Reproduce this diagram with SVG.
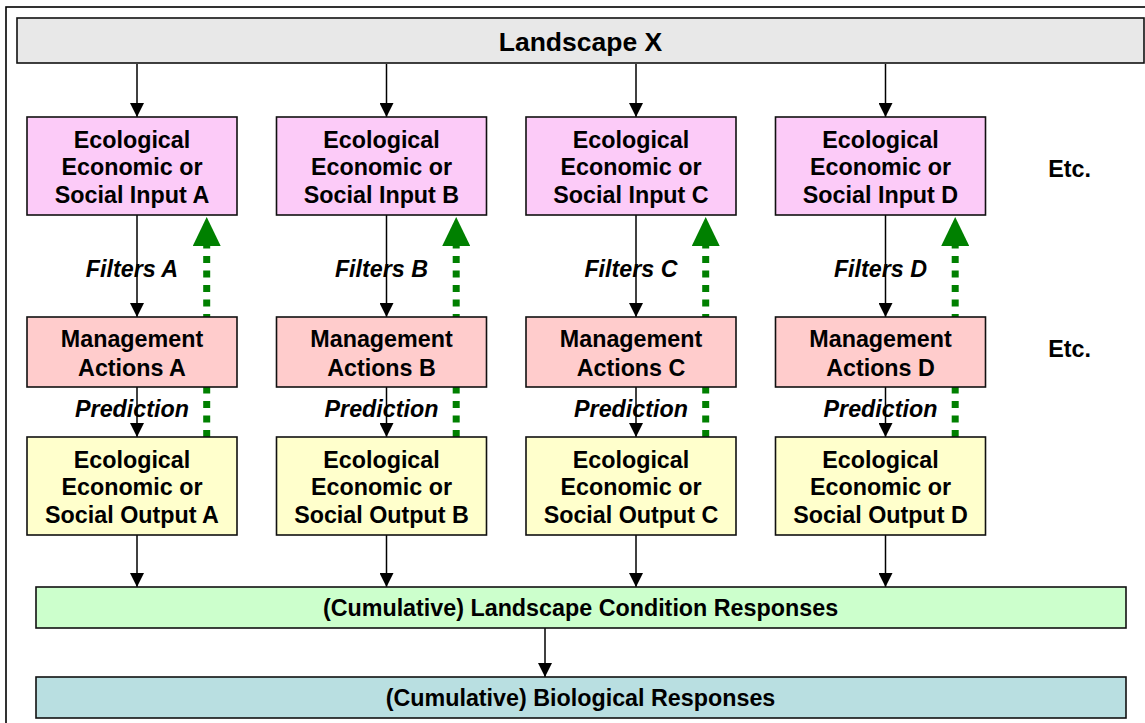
<svg xmlns="http://www.w3.org/2000/svg" width="1145" height="723" viewBox="0 0 1145 723">
  <style>
    .box { stroke: #111; stroke-width: 1.6; }
    .t { font-family: "Liberation Sans", Arial, sans-serif; font-weight: bold; font-size: 23.3px; fill: #000; text-anchor: middle; }
    .title { font-size: 26.5px; }
    .lbl { font-style: italic; }
    .arr { stroke: #000; stroke-width: 1.5; fill: none; marker-end: url(#ah); }
    .fb { stroke: #008000; stroke-width: 7; stroke-dasharray: 7 7.5; fill: none; marker-end: url(#gh); }
    .in { fill: #fccbf8; }
    .mg { fill: #ffcccc; }
    .out { fill: #ffffcc; }
  </style>
  <defs>
    <marker id="ah" markerUnits="userSpaceOnUse" markerWidth="14" markerHeight="14" refX="14" refY="7" orient="auto">
      <path d="M0,0 L14,7 L0,14 z" fill="#000"/>
    </marker>
    <marker id="gh" markerUnits="userSpaceOnUse" markerWidth="30" markerHeight="28" refX="0" refY="14" orient="auto">
      <path d="M0,0 L29,14 L0,28 z" fill="#008000"/>
    </marker>
  </defs>

  <!-- outer frame -->
  <rect x="6" y="7" width="1160" height="740" fill="#fff" stroke="#000" stroke-width="1.6"/>

  <!-- connectors -->
  <g id="connectors">
    <line class="arr" x1="137" y1="64" x2="137" y2="117"/>
    <line class="arr" x1="386.5" y1="64" x2="386.5" y2="117"/>
    <line class="arr" x1="636" y1="64" x2="636" y2="117"/>
    <line class="arr" x1="885.5" y1="64" x2="885.5" y2="117"/>

    <line class="arr" x1="137" y1="215" x2="137" y2="317"/>
    <line class="arr" x1="386.5" y1="215" x2="386.5" y2="317"/>
    <line class="arr" x1="636" y1="215" x2="636" y2="317"/>
    <line class="arr" x1="885.5" y1="215" x2="885.5" y2="317"/>

    <line class="arr" x1="137" y1="387" x2="137" y2="437"/>
    <line class="arr" x1="386.5" y1="387" x2="386.5" y2="437"/>
    <line class="arr" x1="636" y1="387" x2="636" y2="437"/>
    <line class="arr" x1="885.5" y1="387" x2="885.5" y2="437"/>

    <line class="arr" x1="137" y1="535" x2="137" y2="587"/>
    <line class="arr" x1="386.5" y1="535" x2="386.5" y2="587"/>
    <line class="arr" x1="636" y1="535" x2="636" y2="587"/>
    <line class="arr" x1="885.5" y1="535" x2="885.5" y2="587"/>

    <line class="arr" x1="545" y1="628" x2="545" y2="677"/>

    <!-- feedback from outputs back to inputs -->
    <line class="fb" x1="206.7" y1="437" x2="206.7" y2="246"/>
    <line class="fb" x1="456.2" y1="437" x2="456.2" y2="246"/>
    <line class="fb" x1="705.7" y1="437" x2="705.7" y2="246"/>
    <line class="fb" x1="955.2" y1="437" x2="955.2" y2="246"/>

    <text class="t lbl" x="132" y="276.5">Filters A</text>
    <text class="t lbl" x="381.5" y="276.5">Filters B</text>
    <text class="t lbl" x="631" y="276.5">Filters C</text>
    <text class="t lbl" x="880.5" y="276.5">Filters D</text>

    <text class="t lbl" x="132" y="416.5">Prediction</text>
    <text class="t lbl" x="381.5" y="416.5">Prediction</text>
    <text class="t lbl" x="631" y="416.5">Prediction</text>
    <text class="t lbl" x="880.5" y="416.5">Prediction</text>
  </g>

  <g id="landscape">
    <rect class="box" x="17" y="18" width="1127" height="45" fill="#e8e8e8"/>
    <text class="t title" x="580.5" y="51">Landscape X</text>
  </g>

  <!-- inputs -->
  <g id="input-a">
    <rect class="box in" x="27" y="117" width="210" height="98"/>
    <text class="t" x="132" y="147.5">Ecological<tspan x="132" dy="27.7">Economic or</tspan><tspan x="132" dy="27.7">Social Input A</tspan></text>
  </g>
  <g id="input-b">
    <rect class="box in" x="276.5" y="117" width="210" height="98"/>
    <text class="t" x="381.5" y="147.5">Ecological<tspan x="381.5" dy="27.7">Economic or</tspan><tspan x="381.5" dy="27.7">Social Input B</tspan></text>
  </g>
  <g id="input-c">
    <rect class="box in" x="526" y="117" width="210" height="98"/>
    <text class="t" x="631" y="147.5">Ecological<tspan x="631" dy="27.7">Economic or</tspan><tspan x="631" dy="27.7">Social Input C</tspan></text>
  </g>
  <g id="input-d">
    <rect class="box in" x="775.5" y="117" width="210" height="98"/>
    <text class="t" x="880.5" y="147.5">Ecological<tspan x="880.5" dy="27.7">Economic or</tspan><tspan x="880.5" dy="27.7">Social Input D</tspan></text>
  </g>

  <!-- management actions -->
  <g id="mgmt-a">
    <rect class="box mg" x="27" y="317" width="210" height="70"/>
    <text class="t" x="132" y="347">Management<tspan x="132" dy="28.5">Actions A</tspan></text>
  </g>
  <g id="mgmt-b">
    <rect class="box mg" x="276.5" y="317" width="210" height="70"/>
    <text class="t" x="381.5" y="347">Management<tspan x="381.5" dy="28.5">Actions B</tspan></text>
  </g>
  <g id="mgmt-c">
    <rect class="box mg" x="526" y="317" width="210" height="70"/>
    <text class="t" x="631" y="347">Management<tspan x="631" dy="28.5">Actions C</tspan></text>
  </g>
  <g id="mgmt-d">
    <rect class="box mg" x="775.5" y="317" width="210" height="70"/>
    <text class="t" x="880.5" y="347">Management<tspan x="880.5" dy="28.5">Actions D</tspan></text>
  </g>

  <!-- outputs -->
  <g id="output-a">
    <rect class="box out" x="27" y="437" width="210" height="98"/>
    <text class="t" x="132" y="467.5">Ecological<tspan x="132" dy="27.7">Economic or</tspan><tspan x="132" dy="27.7">Social Output A</tspan></text>
  </g>
  <g id="output-b">
    <rect class="box out" x="276.5" y="437" width="210" height="98"/>
    <text class="t" x="381.5" y="467.5">Ecological<tspan x="381.5" dy="27.7">Economic or</tspan><tspan x="381.5" dy="27.7">Social Output B</tspan></text>
  </g>
  <g id="output-c">
    <rect class="box out" x="526" y="437" width="210" height="98"/>
    <text class="t" x="631" y="467.5">Ecological<tspan x="631" dy="27.7">Economic or</tspan><tspan x="631" dy="27.7">Social Output C</tspan></text>
  </g>
  <g id="output-d">
    <rect class="box out" x="775.5" y="437" width="210" height="98"/>
    <text class="t" x="880.5" y="467.5">Ecological<tspan x="880.5" dy="27.7">Economic or</tspan><tspan x="880.5" dy="27.7">Social Output D</tspan></text>
  </g>

  <g id="etc">
    <text class="t" x="1069.5" y="176.5">Etc.</text>
    <text class="t" x="1069.5" y="357">Etc.</text>
  </g>

  <g id="landscape-condition">
    <rect class="box" x="36" y="587" width="1090" height="41" fill="#ccffcc"/>
    <text class="t" x="580.5" y="616">(Cumulative) Landscape Condition Responses</text>
  </g>
  <g id="biological">
    <rect class="box" x="36" y="677" width="1090" height="41" fill="#b9dfe1"/>
    <text class="t" x="580.5" y="706">(Cumulative) Biological Responses</text>
  </g>
</svg>
